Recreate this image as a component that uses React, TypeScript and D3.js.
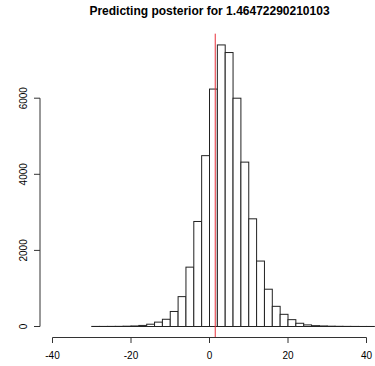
import React from "react";
import * as d3 from "d3";

const binStarts = [-30,-28,-26,-24,-22,-20,-18,-16,-14,-12,-10,-8,-6,-4,-2,0,2,4,6,8,10,12,14,16,18,20,22,24,26,28,30,32,34,36,38,40];
const counts = [2,2,3,4,8,14,28,60,115,190,395,785,1560,2760,4490,6240,7400,7200,6000,4320,2830,1720,980,530,320,180,85,42,22,14,8,5,3,2,1,1];
const binWidth = 2;
const xTicks = [-40,-20,0,20,40];
const yTicks = [0,2000,4000,6000];
const markerValue = 1.46472290210103;
const title = "Predicting posterior for 1.46472290210103";

export default function App() {
  const W = 375, H = 366;
  const x = d3.scaleLinear().domain([-40, 40]).range([52.5, 366.5]);
  const maxC = d3.max(counts) as number;
  const y = d3.scaleLinear().domain([0, maxC]).range([326.5, 326.5 - maxC * 0.03805]);
  const plotTop = y(maxC * 1.04);
  const plotBottom = y(-maxC * 0.04);
  const font = "Liberation Sans, Arial, Helvetica, sans-serif";
  return (
    <svg width={W} height={H} style={{ position: "absolute", left: 0, top: 0, background: "#fff" }} fontFamily={font}>
      <text x={209.5} y={14.5} textAnchor="middle" fontSize={12} fontWeight="bold" fill="#000">{title}</text>
      {binStarts.map((b, i) => (
        <rect key={i} x={x(b)} y={y(counts[i])} width={x(b + binWidth) - x(b)} height={y(0) - y(counts[i])}
          fill="#fff" stroke="#222" strokeWidth={1} />
      ))}
      <line x1={x(markerValue)} x2={x(markerValue)} y1={plotTop} y2={plotBottom} stroke="#e8303a" strokeWidth={1} />
      {/* x axis */}
      <line x1={x(-40)} x2={x(40)} y1={337.5} y2={337.5} stroke="#333" />
      {xTicks.map(t => (
        <g key={t}>
          <line x1={x(t)} x2={x(t)} y1={337.5} y2={343} stroke="#333" />
          <text x={x(t)} y={358.5} textAnchor="middle" fontSize={10} fill="#000">{t}</text>
        </g>
      ))}
      {/* y axis */}
      <line x1={40} x2={40} y1={y(0)} y2={y(6000)} stroke="#333" />
      {yTicks.map(t => (
        <g key={t}>
          <line x1={34} x2={40} y1={y(t)} y2={y(t)} stroke="#333" />
          <text transform={`translate(26.5,${y(t)}) rotate(-90)`} textAnchor="middle" fontSize={10} fill="#000">{t}</text>
        </g>
      ))}
    </svg>
  );
}
